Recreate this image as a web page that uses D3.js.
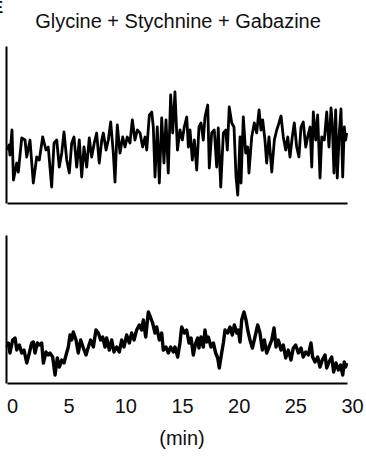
<!DOCTYPE html>
<html>
<head>
<meta charset="utf-8">
<script src="https://cdn.jsdelivr.net/npm/d3@7"></script>
<style>
  html, body { margin: 0; padding: 0; background: #fff; }
  svg { display: block; font-family: "Liberation Sans", Arial, sans-serif; }
</style>
</head>
<body>
<div id="chart"></div>
<script>
const title = 'Glycine + Stychnine + Gabazine';
const panelLetter = 'E';
const xLabel = '(min)';
const xTicks = [0, 5, 10, 15, 20, 25, 30];

// top trace (time in min, signal in arbitrary units)
const topMinutes = [0.00,0.18,0.26,0.44,0.57,0.86,1.00,1.30,1.59,1.74,
  2.03,2.32,2.62,2.85,3.15,3.44,3.64,3.94,4.15,4.39,
  4.61,4.83,5.03,5.27,5.50,5.71,5.91,6.15,6.38,6.59,
  6.79,7.03,7.26,7.47,7.70,7.91,8.14,8.36,8.50,8.74,
  8.94,9.15,9.38,9.53,9.73,9.97,10.21,10.41,10.61,10.85,
  11.06,11.29,11.50,11.74,11.97,12.18,12.33,12.56,12.77,12.91,
  13.06,13.26,13.44,13.65,13.85,14.03,14.23,14.44,14.62,14.82,
  15.04,15.26,15.47,15.64,15.86,16.00,16.15,16.35,16.53,16.74,
  16.94,17.12,17.32,17.47,17.71,17.85,18.06,18.29,18.50,18.64,
  18.86,19.09,19.30,19.44,19.61,19.83,20.03,20.21,20.36,20.56,
  20.65,20.85,21.06,21.24,21.35,21.59,21.82,22.03,22.24,22.41,
  22.56,22.76,22.91,23.12,23.36,23.59,23.80,24.00,24.18,24.38,
  24.59,24.77,24.97,25.17,25.35,25.56,25.76,25.94,26.14,26.36,
  26.53,26.74,26.89,27.03,27.24,27.41,27.62,27.77,28.00,28.21,
  28.41,28.59,28.70,28.85,29.00,29.14,29.32,29.47,29.62,29.76,
  29.88,29.97];
const topValues = [53,58,48,73,23,40,31,65,63,46,
  63,20,46,43,66,53,56,16,60,63,
  36,50,71,43,30,60,66,36,63,26,
  56,36,65,46,60,70,40,63,70,53,
  63,81,50,21,78,50,66,56,66,60,
  83,63,73,70,56,66,53,88,91,76,
  26,76,20,85,40,83,30,108,70,111,
  53,73,63,76,86,56,73,43,63,33,
  76,80,63,86,98,35,70,73,36,75,
  16,70,73,53,96,80,76,26,8,66,
  20,86,50,56,30,66,80,70,93,73,
  83,63,40,66,31,63,73,80,87,66,
  53,66,46,66,80,56,46,76,81,56,
  66,76,36,91,63,88,25,66,63,91,
  56,95,80,30,93,25,70,94,26,76,
  63,70];

// bottom trace
const bottomMinutes = [0.00,0.12,0.26,0.50,0.71,0.86,1.09,1.30,1.50,1.74,
  1.97,2.18,2.32,2.47,2.68,2.85,3.06,3.21,3.44,3.64,
  3.79,4.03,4.24,4.44,4.62,4.83,5.03,5.21,5.41,5.56,
  5.71,5.85,6.09,6.29,6.50,6.74,6.97,7.18,7.38,7.62,
  7.85,8.06,8.26,8.44,8.65,8.79,9.03,9.24,9.44,9.68,
  9.91,10.12,10.32,10.56,10.79,11.00,11.21,11.44,11.67,11.88,
  12.03,12.24,12.47,12.68,12.85,13.06,13.21,13.44,13.65,13.79,
  14.03,14.23,14.44,14.68,14.82,15.06,15.26,15.41,15.65,15.85,
  16.06,16.24,16.44,16.65,16.82,16.94,17.12,17.32,17.47,17.62,
  17.76,18.00,18.21,18.41,18.59,18.73,18.94,19.09,19.24,19.47,
  19.68,19.88,20.06,20.27,20.41,20.56,20.71,20.91,21.09,21.24,
  21.44,21.65,21.88,22.12,22.32,22.53,22.71,22.91,23.12,23.36,
  23.56,23.74,23.94,24.18,24.38,24.59,24.82,25.06,25.26,25.47,
  25.71,25.94,26.14,26.36,26.59,26.82,26.97,27.18,27.41,27.62,
  27.82,28.06,28.21,28.41,28.65,28.82,29.03,29.24,29.44,29.62,
  29.76,29.88,29.97];
const bottomValues = [36,40,30,43,45,33,38,30,33,20,
  30,40,41,30,40,38,40,20,31,28,
  30,26,8,25,16,23,20,28,36,48,
  43,51,43,30,43,35,28,36,43,36,
  53,50,43,46,36,45,33,43,31,36,
  31,43,36,48,40,50,43,53,58,53,
  63,46,71,65,60,50,56,43,50,33,
  36,30,36,31,36,26,40,56,50,53,
  40,45,28,40,45,35,46,36,53,41,
  46,36,40,30,25,15,30,40,53,50,
  56,48,58,50,53,41,63,71,63,53,
  43,35,46,58,50,33,43,30,36,43,
  55,36,43,33,38,25,33,23,35,38,
  30,35,26,31,28,40,26,21,26,16,
  23,28,15,21,26,11,20,13,18,8,
  21,16,20];

const width = 366;
const height = 456;

const svg = d3.select('#chart')
  .append('svg')
  .attr('width', width)
  .attr('height', height);

const x = d3.scaleLinear().domain([0, 30]).range([7, 347]);

const panels = [
  { minutes: topMinutes, values: topValues, lw: 2.8,
    y: d3.scaleLinear().domain([0, 157]).range([203, 46]) },
  { minutes: bottomMinutes, values: bottomValues, lw: 3.4,
    y: d3.scaleLinear().domain([0, 148]).range([383, 235]) }
];

panels.forEach(p => {
  const data = p.minutes.map((t, i) => [t, p.values[i]]);

  // axis lines only, no ticks
  svg.append('g')
    .attr('transform', `translate(0,${p.y(0)})`)
    .call(d3.axisBottom(x).tickValues([]).tickSizeOuter(0))
    .call(g => g.select('.domain').attr('stroke', '#000').attr('stroke-width', 2));

  svg.append('g')
    .attr('transform', 'translate(6,0)')
    .call(d3.axisLeft(p.y).tickValues([]).tickSizeOuter(0))
    .call(g => g.select('.domain').attr('stroke', '#000').attr('stroke-width', 2));

  const line = d3.line()
    .x(d => x(d[0]))
    .y(d => p.y(d[1]));

  svg.append('path')
    .datum(data)
    .attr('fill', 'none')
    .attr('stroke', '#000')
    .attr('stroke-width', p.lw)
    .attr('stroke-linejoin', 'round')
    .attr('d', line);
});

// tick labels under the bottom panel
svg.append('g')
  .attr('transform', 'translate(5,398)')
  .call(d3.axisBottom(x).tickValues(xTicks).tickSize(0).tickPadding(0))
  .call(g => g.select('.domain').remove())
  .call(g => g.selectAll('text')
    .attr('dy', '0.75em')
    .attr('fill', '#111')
    .style('font-size', '20px')
    .style('font-family', '"Liberation Sans", Arial, sans-serif'));

svg.append('text')
  .attr('x', 182)
  .attr('y', 445)
  .attr('text-anchor', 'middle')
  .style('font-size', '20px')
  .attr('fill', '#111')
  .text(xLabel);

svg.append('text')
  .attr('x', 178)
  .attr('y', 28)
  .attr('text-anchor', 'middle')
  .style('font-size', '20px')
  .attr('fill', '#111')
  .text(title);

// panel letter, mostly cut off at the left edge
svg.append('text')
  .attr('x', 3)
  .attr('y', 13)
  .attr('text-anchor', 'end')
  .style('font-size', '17px')
  .style('font-weight', 'bold')
  .text(panelLetter);
</script>
</body>
</html>
